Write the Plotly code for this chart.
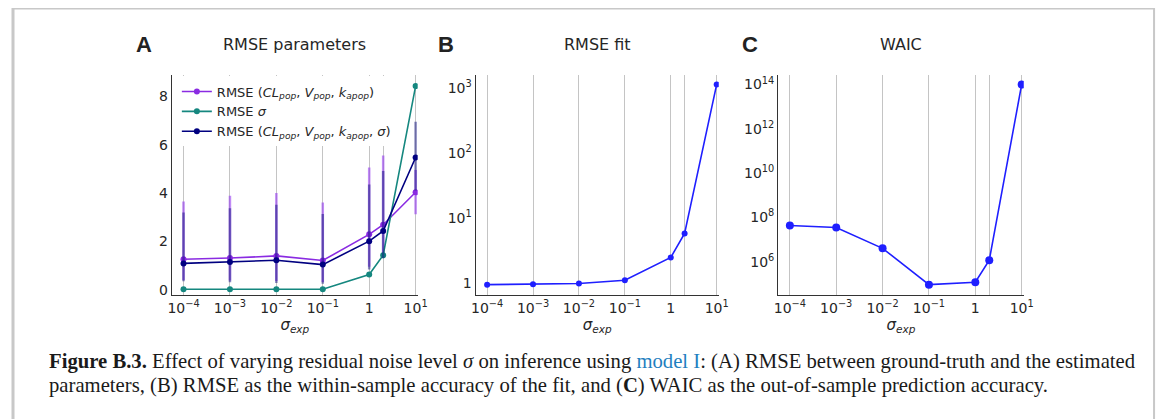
import plotly.graph_objects as go

# ---------------- data ----------------
sigma_exp = [1e-4, 1e-3, 1e-2, 1e-1, 1, 2, 10]
x_ticktext = ["10<sup>−4</sup>", "10<sup>−3</sup>", "10<sup>−2</sup>", "10<sup>−1</sup>", "1", "", "10<sup>1</sup>"]

rmse_params = [1.26, 1.31, 1.40, 1.21, 2.29, 2.69, 4.03]
rmse_params_hi = [3.65, 3.89, 4.00, 3.61, 5.05, 5.55, 4.95]
rmse_params_lo = [0.40, 0.38, 0.36, 0.32, 0.95, 1.40, 3.12]

rmse_sigma = [0.02, 0.02, 0.02, 0.02, 0.63, 1.43, 8.42]

rmse_all = [1.09, 1.15, 1.22, 1.04, 2.01, 2.43, 5.47]
rmse_all_hi = [3.19, 3.37, 3.51, 3.13, 4.35, 4.91, 6.95]
rmse_all_lo = [0.35, 0.31, 0.28, 0.25, 0.84, 1.30, 4.10]

rmse_fit = [0.94, 0.95, 0.98, 1.10, 2.47, 5.8, 1150]
fit_tickvals = [1, 10, 100, 1000]
fit_ticktext = ["1", "10<sup>1</sup>", "10<sup>2</sup>", "10<sup>3</sup>"]

waic_log10 = [7.63, 7.54, 6.60, 4.96, 5.07, 6.06, 14.0]
waic = [10 ** v for v in waic_log10]
waic_tickvals = [1e6, 1e8, 1e10, 1e12, 1e14]
waic_ticktext = ["10<sup>6</sup>", "10<sup>8</sup>", "10<sup>10</sup>", "10<sup>12</sup>", "10<sup>14</sup>"]

# ---------------- styling ----------------
OFF = 8                      # page body margin
W, H = 1160, 411
TXT = "#262626"
FONT = "DejaVu Sans"
PURPLE = "#8a2be2"
TEAL = "#15877f"
NAVY = "#000080"
BLUE = "#1f1fff"

def px_x(p):
    return (p - OFF) / W

def px_y(p):
    return 1 - (p - OFF) / H

y_dom = [px_y(296.7), px_y(75)]
doms = [[px_x(169), px_x(418)], [px_x(476.7), px_x(723)], [px_x(783.3), px_x(1032)]]

fig = go.Figure()

def diff(a, b):
    return [float(x - y) for x, y in zip(a, b)]

fig.add_trace(go.Scatter(
    x=sigma_exp, y=rmse_params, mode="lines+markers",
    name="RMSE (<i>CL<sub>pop</sub></i>, <i>V<sub>pop</sub></i>, <i>k<sub>apop</sub></i>)",
    line=dict(color=PURPLE, width=1.6), marker=dict(color=PURPLE, size=6),
    error_y=dict(type="data", symmetric=False, array=diff(rmse_params_hi, rmse_params),
                 arrayminus=diff(rmse_params, rmse_params_lo), color="rgba(150,60,240,0.6)",
                 thickness=2.5, width=0),
    xaxis="x", yaxis="y"))
fig.add_trace(go.Scatter(
    x=sigma_exp, y=rmse_sigma, mode="lines+markers",
    name="RMSE <i>σ</i>",
    line=dict(color=TEAL, width=1.6), marker=dict(color=TEAL, size=6),
    xaxis="x", yaxis="y"))
fig.add_trace(go.Scatter(
    x=sigma_exp, y=rmse_all, mode="lines+markers",
    name="RMSE (<i>CL<sub>pop</sub></i>, <i>V<sub>pop</sub></i>, <i>k<sub>apop</sub></i>, <i>σ</i>)",
    line=dict(color=NAVY, width=1.6), marker=dict(color=NAVY, size=6),
    error_y=dict(type="data", symmetric=False, array=diff(rmse_all_hi, rmse_all),
                 arrayminus=diff(rmse_all, rmse_all_lo), color="rgba(20,20,130,0.5)",
                 thickness=2.5, width=0),
    xaxis="x", yaxis="y"))

fig.add_trace(go.Scatter(
    x=sigma_exp, y=rmse_fit, mode="lines+markers", showlegend=False,
    line=dict(color=BLUE, width=1.6), marker=dict(color=BLUE, size=6),
    xaxis="x2", yaxis="y2"))
fig.add_trace(go.Scatter(
    x=sigma_exp, y=waic, mode="lines+markers", showlegend=False,
    line=dict(color=BLUE, width=1.6), marker=dict(color=BLUE, size=8),
    xaxis="x3", yaxis="y3"))

tickfont = dict(family=FONT, size=14, color=TXT)

def xaxis(dom, anchor):
    return dict(domain=dom, anchor=anchor, type="log", range=[-4.25, 1.045],
                tickvals=sigma_exp, ticktext=x_ticktext, tickfont=tickfont,
                showgrid=True, gridcolor="#c4c4c4", gridwidth=1.2,
                showline=True, linecolor="#333333", linewidth=1.3,
                ticks="", zeroline=False,
                title=dict(text="<i>σ<sub>exp</sub></i>", font=dict(family=FONT, size=15, color=TXT),
                           standoff=0))

def yaxis(dom, anchor, **kw):
    d = dict(domain=dom, anchor=anchor, tickfont=tickfont, showgrid=False,
             showline=True, linecolor="#333333", linewidth=1.3, ticks="", zeroline=False)
    d.update(kw)
    return d

fig.update_layout(
    width=W, height=H, margin=dict(l=0, r=0, t=0, b=0),
    paper_bgcolor="white", plot_bgcolor="white",
    font=dict(family=FONT, color=TXT),
    xaxis=xaxis(doms[0], "y"),
    xaxis2=xaxis(doms[1], "y2"),
    xaxis3=xaxis(doms[2], "y3"),
    yaxis=yaxis(y_dom, "x", range=[-0.2, 8.9], tickvals=[0, 2, 4, 6, 8]),
    yaxis2=yaxis(y_dom, "x2", type="log", range=[-0.18, 3.214],
                 tickvals=fit_tickvals, ticktext=fit_ticktext),
    yaxis3=yaxis(y_dom, "x3", type="log", range=[4.51, 14.45],
                 tickvals=waic_tickvals, ticktext=waic_ticktext),
    legend=dict(x=px_x(174), y=px_y(77), xanchor="left", yanchor="top",
                bgcolor="white", borderwidth=0, font=dict(family=FONT, size=13, color=TXT),
                tracegroupgap=0, itemwidth=30),
    showlegend=True,
)

# panel letters and titles
letters = [("A", 141, "RMSE parameters", 293), ("B", 447, "RMSE fit", 600), ("C", 755, "WAIC", 908)]
for letter, lx, title, tx in letters:
    fig.add_annotation(x=px_x(lx), y=px_y(45), xref="paper", yref="paper", text=f"<b>{letter}</b>",
                       showarrow=False, xanchor="center", yanchor="middle",
                       font=dict(family="Liberation Sans", size=22, color="#222222"))
    fig.add_annotation(x=px_x(tx), y=px_y(45), xref="paper", yref="paper", text=title,
                       showarrow=False, xanchor="center", yanchor="middle",
                       font=dict(family=FONT, size=16, color=TXT))

# caption
cap_font = dict(family="Liberation Serif", size=20.7, color="#1a1a1a")
line1 = ("<b>Figure B.3.</b> Effect of varying residual noise level <i>σ</i> on inference using "
         "<span style='color:#1f7fc0'>model I</span>: (A) RMSE between ground-truth and the estimated")
line2 = ("parameters, (B) RMSE as the within-sample accuracy of the fit, and (<b>C</b>) WAIC as the "
         "out-of-sample prediction accuracy.")
fig.add_annotation(x=px_x(42), y=px_y(364), xref="paper", yref="paper", text=line1, showarrow=False,
                   xanchor="left", yanchor="middle", font=cap_font)
fig.add_annotation(x=px_x(42), y=px_y(388), xref="paper", yref="paper", text=line2, showarrow=False,
                   xanchor="left", yanchor="middle", font=cap_font)

# frame border (top, left, right)
frame = dict(color="#c8c8c8", width=3)
fig.add_shape(type="line", xref="paper", yref="paper", x0=0, x1=px_x(1164), y0=1, y1=1, line=frame)
fig.add_shape(type="line", xref="paper", yref="paper", x0=0, x1=0, y0=1, y1=-0.05, line=frame)
fig.add_shape(type="line", xref="paper", yref="paper", x0=px_x(1164), x1=px_x(1164), y0=1, y1=-0.05,
              line=dict(color="#c8c8c8", width=2))

fig.write_html("out.html")
